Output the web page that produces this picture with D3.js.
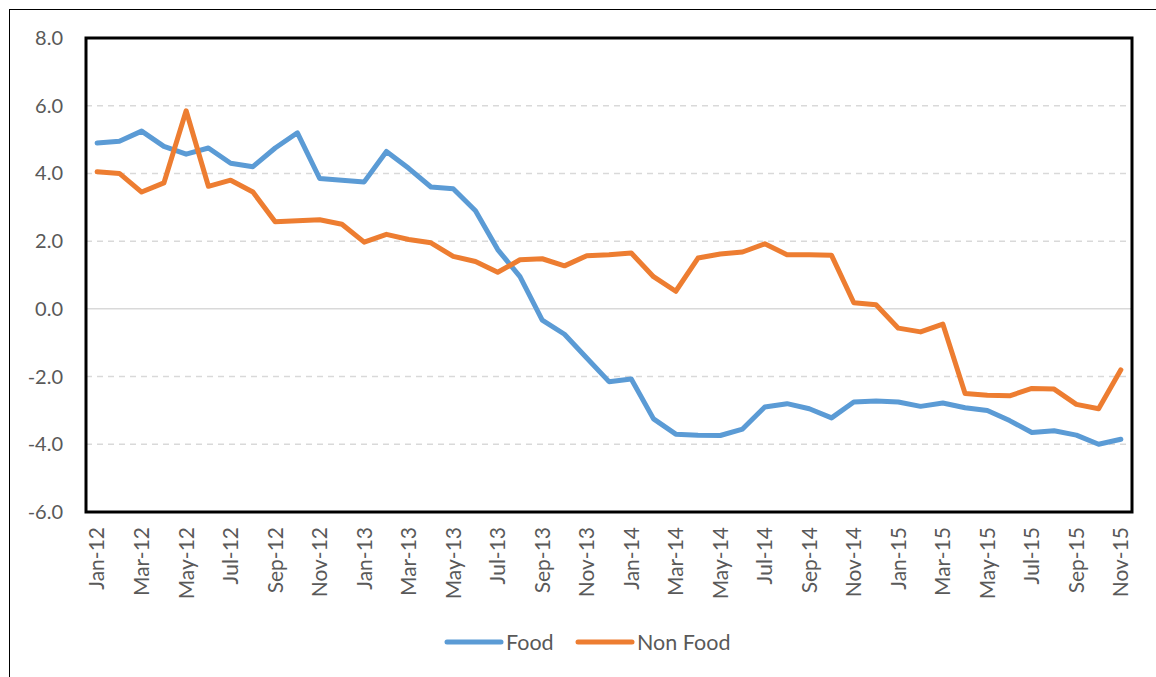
<!DOCTYPE html>
<html>
<head>
<meta charset="utf-8">
<script src="https://cdn.jsdelivr.net/npm/d3@7"></script>
<style>
  body { margin: 0; background: #fff; }
  text { font-family: Lato, "Open Sans", sans-serif; fill: #595959; }
</style>
</head>
<body>
<script>
// months Jan-12 .. Nov-15
const months = ["Jan-12","Feb-12","Mar-12","Apr-12","May-12","Jun-12","Jul-12","Aug-12","Sep-12","Oct-12","Nov-12","Dec-12",
  "Jan-13","Feb-13","Mar-13","Apr-13","May-13","Jun-13","Jul-13","Aug-13","Sep-13","Oct-13","Nov-13","Dec-13",
  "Jan-14","Feb-14","Mar-14","Apr-14","May-14","Jun-14","Jul-14","Aug-14","Sep-14","Oct-14","Nov-14","Dec-14",
  "Jan-15","Feb-15","Mar-15","Apr-15","May-15","Jun-15","Jul-15","Aug-15","Sep-15","Oct-15","Nov-15"];

const food = [4.9,4.95,5.25,4.8,4.57,4.75,4.3,4.2,4.75,5.2,3.85,3.8,
  3.75,4.65,4.15,3.6,3.55,2.9,1.75,0.95,-0.33,-0.75,-1.45,-2.15,
  -2.07,-3.25,-3.7,-3.73,-3.74,-3.55,-2.9,-2.8,-2.95,-3.22,-2.75,-2.72,
  -2.75,-2.88,-2.78,-2.92,-3.0,-3.3,-3.65,-3.6,-3.73,-4.0,-3.85];

const nonFood = [4.05,4.0,3.45,3.72,5.85,3.62,3.8,3.45,2.57,2.6,2.63,2.5,
  1.97,2.2,2.05,1.95,1.55,1.4,1.08,1.45,1.48,1.27,1.57,1.6,
  1.65,0.95,0.52,1.5,1.62,1.68,1.92,1.6,1.6,1.58,0.18,0.12,
  -0.57,-0.68,-0.45,-2.5,-2.55,-2.57,-2.35,-2.37,-2.82,-2.95,-1.8];

const yTicks = [-6,-4,-2,0,2,4,6,8];

const W = 1156, H = 677;
const plot = {left: 86, top: 38, right: 1132, bottom: 512};

const svg = d3.select("body").append("svg")
  .attr("width", W)
  .attr("height", H);

// outer chart border
svg.append("rect")
  .attr("x", 9.5).attr("y", 9.5)
  .attr("width", W + 10).attr("height", H + 10)
  .attr("fill", "none")
  .attr("stroke", "#000")
  .attr("stroke-width", 1);

const x = d3.scaleBand()
  .domain(months)
  .range([plot.left, plot.right]);

const y = d3.scaleLinear()
  .domain([-6, 8])
  .range([plot.bottom, plot.top]);

// gridlines
svg.append("g").attr("class", "grid")
  .selectAll("line")
  .data(yTicks.filter(d => d > -6 && d < 8))
  .enter().append("line")
  .attr("x1", plot.left).attr("x2", plot.right)
  .attr("y1", d => y(d)).attr("y2", d => y(d))
  .attr("stroke", "#d9d9d9")
  .attr("stroke-width", 1.5)
  .attr("stroke-dasharray", d => d === 0 ? null : "6,5");

// y labels
svg.append("g").attr("class", "y axis")
  .selectAll("text")
  .data(yTicks)
  .enter().append("text")
  .attr("x", 63)
  .attr("y", d => y(d))
  .attr("dy", "0.35em")
  .style("text-anchor", "end")
  .style("font-size", "20px")
  .text(d => d3.format(".1f")(d).replace("−", "-"));

// x labels, every other month
svg.append("g").attr("class", "x axis")
  .selectAll("text")
  .data(months.filter((m, i) => i % 2 === 0))
  .enter().append("text")
  .attr("transform", d => "translate(" + (x(d) + x.bandwidth() / 2) + ",527) rotate(-90)")
  .attr("dy", "0.35em")
  .style("text-anchor", "end")
  .style("font-size", "21px")
  .text(d => d);

const line = d3.line()
  .x((d, i) => x(months[i]) + x.bandwidth() / 2)
  .y(d => y(d))
  .curve(d3.curveLinear);

const series = [
  {name: "Food", values: food, color: "#5b9bd5"},
  {name: "Non Food", values: nonFood, color: "#ed7d31"}
];

svg.append("g").selectAll("path")
  .data(series)
  .enter().append("path")
  .attr("d", d => line(d.values))
  .attr("fill", "none")
  .attr("stroke", d => d.color)
  .attr("stroke-width", 5)
  .attr("stroke-linejoin", "round")
  .attr("stroke-linecap", "round");

// plot area border
svg.append("rect")
  .attr("x", plot.left).attr("y", plot.top)
  .attr("width", plot.right - plot.left)
  .attr("height", plot.bottom - plot.top)
  .attr("fill", "none")
  .attr("stroke", "#000")
  .attr("stroke-width", 3);

// legend
const legendX = [447, 578];
const legend = svg.append("g").selectAll("g")
  .data(series)
  .enter().append("g")
  .attr("transform", (d, i) => "translate(" + legendX[i] + ",642)");

legend.append("line")
  .attr("x1", 0).attr("x2", 54)
  .attr("stroke", d => d.color)
  .attr("stroke-width", 5)
  .attr("stroke-linecap", "round");

legend.append("text")
  .attr("x", 59)
  .attr("dy", "0.35em")
  .style("font-size", "21.5px")
  .text(d => d.name);
</script>
</body>
</html>
